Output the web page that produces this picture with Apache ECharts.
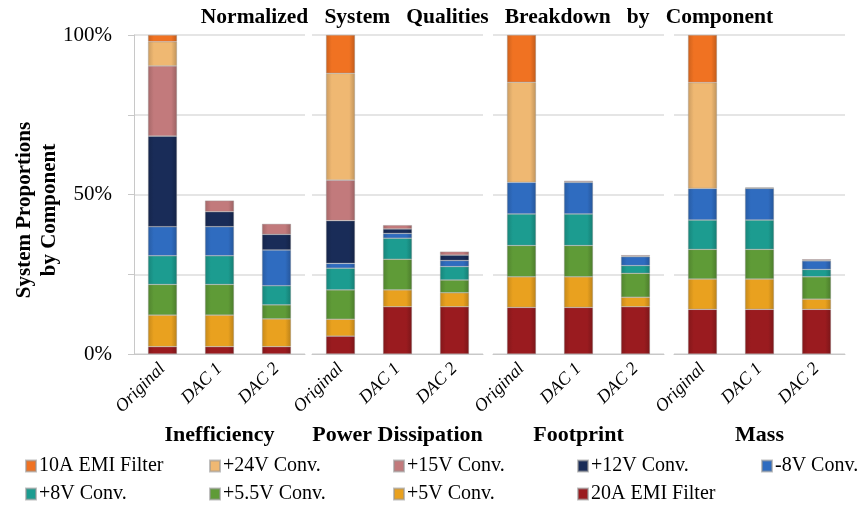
<!DOCTYPE html>
<html>
<head>
<meta charset="utf-8">
<script src="https://cdn.jsdelivr.net/npm/echarts@6/dist/echarts.min.js"></script>
<style>html,body{margin:0;padding:0;background:#fff}#c{width:860px;height:525px}</style>
</head>
<body>
<div id="c"></div>
<script>
// Categories
const groups = ['Inefficiency', 'Power Dissipation', 'Footprint', 'Mass'];
const bars = ['Original', 'DAC 1', 'DAC 2'];
const yTicks = ['0%', '50%', '100%'];

// Series values (percent), order: [group][bar] flattened
const emi20 = [2.3, 2.3, 2.3, 5.6, 14.8, 14.8, 14.6, 14.6, 14.8, 14.0, 14.0, 14.0];
const conv5 = [9.9, 9.9, 8.7, 5.3, 5.3, 4.4, 9.6, 9.6, 3.0, 9.5, 9.5, 3.2];
const conv55 = [9.6, 9.6, 4.4, 9.2, 9.6, 4.0, 9.8, 9.8, 7.5, 9.3, 9.3, 7.0];
const conv8 = [9.0, 9.0, 6.0, 6.8, 6.6, 4.2, 9.9, 9.9, 2.4, 9.2, 9.2, 2.3];
const convM8 = [9.1, 9.1, 11.2, 1.5, 1.5, 1.9, 9.9, 9.9, 2.8, 9.9, 9.9, 2.7];
const conv12 = [28.4, 4.7, 4.9, 13.4, 1.4, 1.7, 0, 0.2, 0.2, 0, 0.1, 0.2];
const conv15 = [22.0, 3.5, 3.3, 12.7, 1.2, 1.1, 0, 0.3, 0.3, 0, 0.2, 0.3];
const conv24 = [7.6, 0, 0, 33.5, 0, 0, 31.4, 0, 0, 33.2, 0, 0];
const emi10 = [2.1, 0, 0, 12.0, 0, 0, 14.8, 0, 0, 14.9, 0, 0];

const comps = [
  { name: '20A EMI Filter', data: emi20, color: '#9a1b1f' },
  { name: '+5V Conv.', data: conv5, color: '#e9a11f' },
  { name: '+5.5V Conv.', data: conv55, color: '#5f9b37' },
  { name: '+8V Conv.', data: conv8, color: '#1c9c90' },
  { name: '-8V Conv.', data: convM8, color: '#2f6cc0' },
  { name: '+12V Conv.', data: conv12, color: '#192c58' },
  { name: '+15V Conv.', data: conv15, color: '#c27a7c' },
  { name: '+24V Conv.', data: conv24, color: '#efb872' },
  { name: '10A EMI Filter', data: emi10, color: '#f07222' }
];

const serif = '"Liberation Serif", "Times New Roman", serif';
const gridLefts = [134, 312, 493, 674];
const gridW = 171;
const gridTop = 35, gridBottom = 171;

function shade(hex, f) {
  const n = parseInt(hex.slice(1), 16);
  let r = (n >> 16) & 255, g = (n >> 8) & 255, b = n & 255;
  const m = v => Math.max(0, Math.min(255, Math.round(f >= 0 ? v + (255 - v) * f : v * (1 + f))));
  return 'rgb(' + m(r) + ',' + m(g) + ',' + m(b) + ')';
}
function fill(c) {
  return new echarts.graphic.LinearGradient(0, 0, 1, 0, [
    { offset: 0, color: shade(c, -0.15) },
    { offset: 0.2, color: c },
    { offset: 0.8, color: c },
    { offset: 1, color: shade(c, -0.2) }
  ]);
}

const grid = [], xAxis = [], yAxis = [], series = [];
groups.forEach((g, gi) => {
  grid.push({ left: gridLefts[gi], width: gridW, top: gridTop, bottom: gridBottom });
  xAxis.push({
    type: 'category', gridIndex: gi, data: bars,
    name: g, nameLocation: 'middle', nameGap: 70,
    nameTextStyle: { fontFamily: serif, fontWeight: 'bold', fontSize: 22, color: '#000' },
    axisLine: { show: true, lineStyle: { color: '#c8c8c8', width: 1 } },
    axisTick: { show: false },
    axisLabel: { rotate: 45, fontFamily: serif, fontStyle: 'italic', fontSize: 18, color: '#000', margin: 12 }
  });
  yAxis.push({
    type: 'value', gridIndex: gi, min: 0, max: 100, interval: 25,
    axisLine: { show: gi === 0, lineStyle: { color: '#c8c8c8' } },
    axisTick: { show: gi === 0, length: 6, lineStyle: { color: '#c8c8c8' } },
    splitLine: { show: true, lineStyle: { color: '#dcdcdc', width: 1.5 } },
    axisLabel: {
      show: gi === 0, fontFamily: serif, fontSize: 21, color: '#000', margin: 22,
      formatter: v => { const s = v + '%'; return yTicks.indexOf(s) >= 0 ? s : ''; }
    }
  });
  comps.forEach(c => {
    series.push({
      name: c.name, type: 'bar', stack: 'g' + gi, xAxisIndex: gi, yAxisIndex: gi,
      barWidth: 29,
      data: c.data.slice(gi * 3, gi * 3 + 3).map(v => v === 0 ? '-' : v),
      itemStyle: { color: fill(c.color), borderColor: 'rgba(150,150,150,0.6)', borderWidth: 0.6 },
      emphasis: { disabled: true }
    });
  });
});

const legendRows = [
  ['10A EMI Filter', '+24V Conv.', '+15V Conv.', '+12V Conv.', '-8V Conv.'],
  ['+8V Conv.', '+5.5V Conv.', '+5V Conv.', '20A EMI Filter']
];
const legendX = [20, 204, 388, 572, 756];
const legendY = [451, 479];
const legend = [];
legendRows.forEach((row, ri) => row.forEach((n, ci) => {
  const c = comps.find(k => k.name === n);
  legend.push({
    data: [{ name: n, itemStyle: { color: c.color } }],
    left: legendX[ci], top: legendY[ri], itemWidth: 10, itemHeight: 11, itemGap: 4,
    icon: 'rect', selectedMode: false,
    textStyle: { fontFamily: serif, fontSize: 20, color: '#000', padding: [0, 0, 0, -2] }
  });
}));

const chart = echarts.init(document.getElementById('c'), null, { renderer: 'canvas' });
chart.setOption({
  animation: false,
  backgroundColor: '#fff',
  graphic: [
    {
      type: 'text', x: 487, y: 17,
      style: {
        text: 'Normalized   System   Qualities   Breakdown   by   Component',
        font: 'bold 21.5px ' + serif, fill: '#000', textAlign: 'center', textVerticalAlign: 'middle'
      }
    },
    {
      type: 'text', x: 37, y: 210, rotation: Math.PI / 2,
      style: {
        text: 'System Proportions\nby Component', lineHeight: 25,
        font: 'bold 21px ' + serif, fill: '#000', textAlign: 'center', textVerticalAlign: 'middle'
      }
    }
  ],
  grid, xAxis, yAxis, series, legend
});
</script>
</body>
</html>
